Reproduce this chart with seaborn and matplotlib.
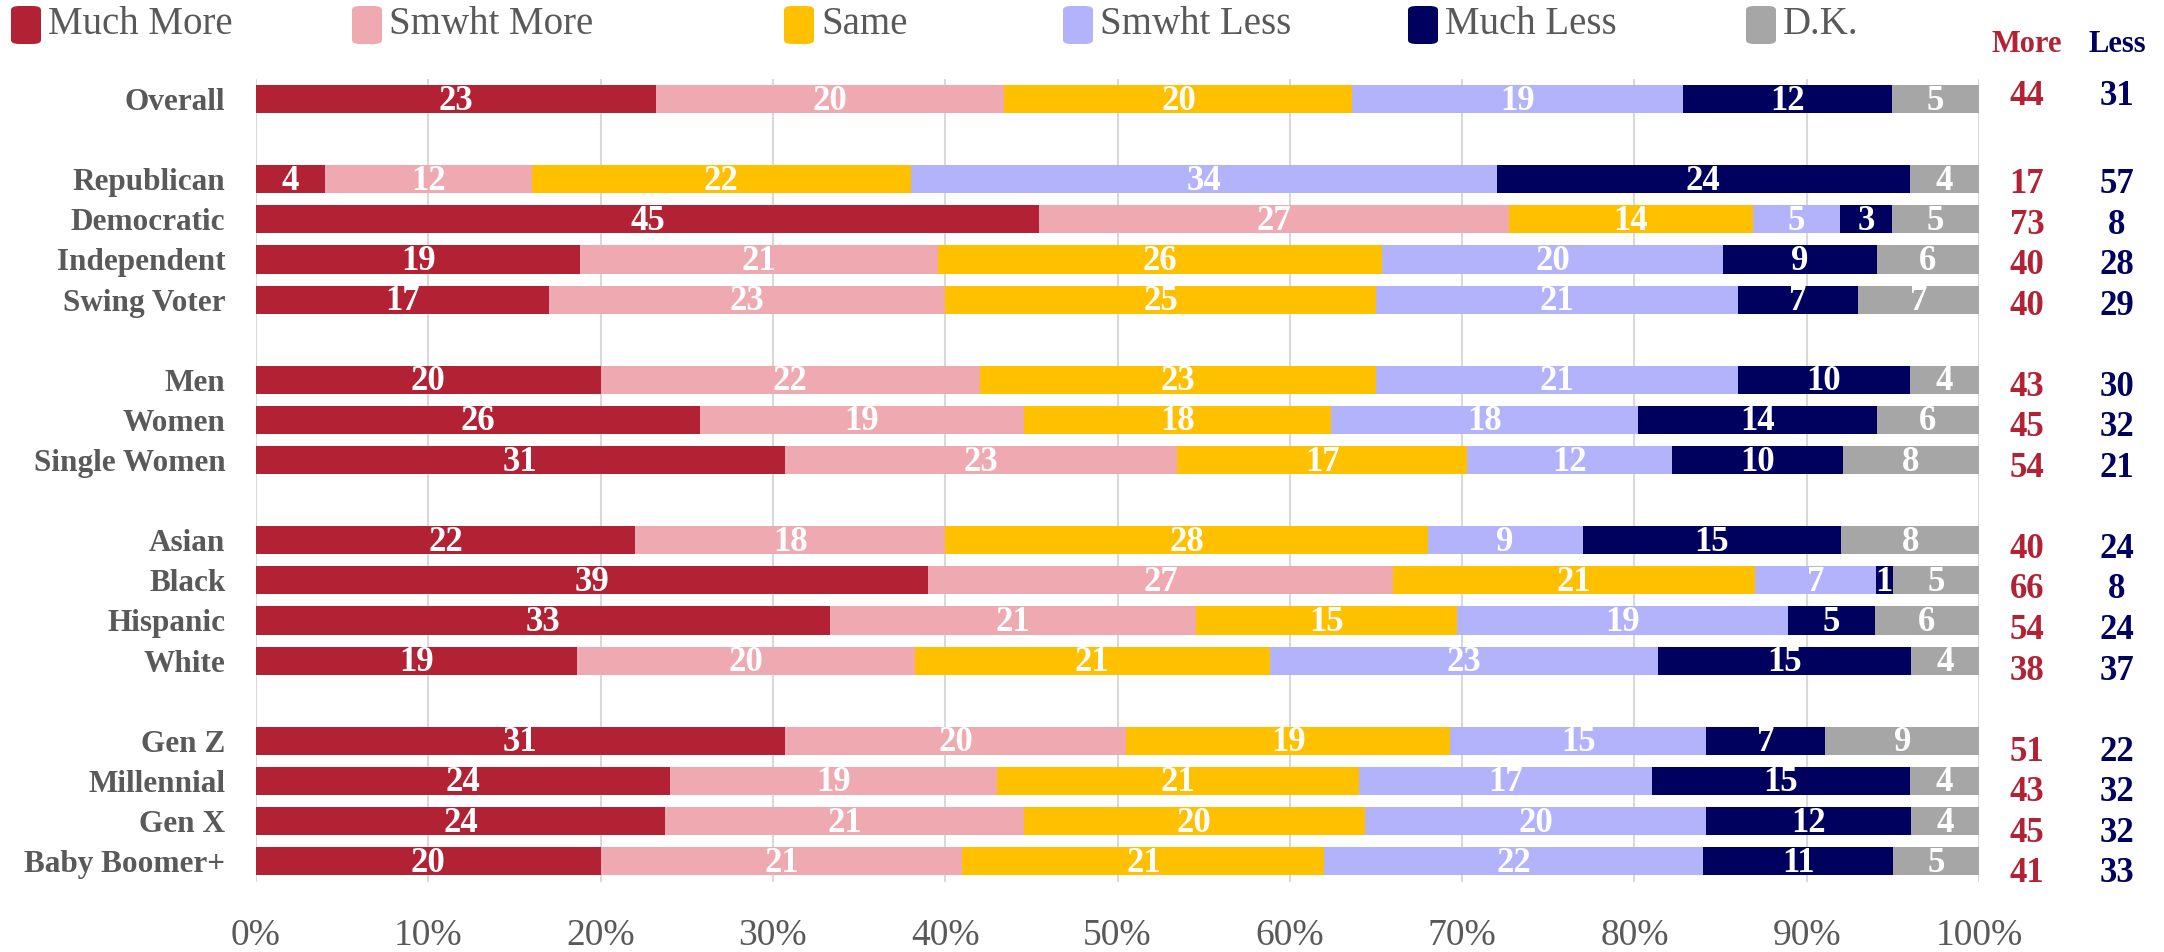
import numpy as np
import pandas as pd
import matplotlib
import matplotlib.pyplot as plt
from matplotlib.patches import FancyBboxPatch
import seaborn as sns

# Use 'Agg' backend for headless image generation
matplotlib.use('Agg')

# Survey rows (a blank row separates each block)
groups = ['Overall', 'Republican', 'Democratic', 'Independent', 'Swing Voter',
          'Men', 'Women', 'Single Women', 'Asian', 'Black', 'Hispanic', 'White',
          'Gen Z', 'Millennial', 'Gen X', 'Baby Boomer+']
positions = [0, 2, 3, 4, 5, 7, 8, 9, 11, 12, 13, 14, 16, 17, 18, 19]

much_more = [23, 4, 45, 19, 17, 20, 26, 31, 22, 39, 33, 19, 31, 24, 24, 20]
smwht_more = [20, 12, 27, 21, 23, 22, 19, 23, 18, 27, 21, 20, 20, 19, 21, 21]
same = [20, 22, 14, 26, 25, 23, 18, 17, 28, 21, 15, 21, 19, 21, 20, 21]
smwht_less = [19, 34, 5, 20, 21, 21, 18, 12, 9, 7, 19, 23, 15, 17, 20, 22]
much_less = [12, 24, 3, 9, 7, 10, 14, 10, 15, 1, 5, 15, 7, 15, 12, 11]
dont_know = [5, 4, 5, 6, 7, 4, 6, 8, 8, 5, 6, 4, 9, 4, 4, 5]

more_total = [44, 17, 73, 40, 40, 43, 45, 54, 40, 66, 54, 38, 51, 43, 45, 41]
less_total = [31, 57, 8, 28, 29, 30, 32, 21, 24, 8, 24, 37, 22, 32, 32, 33]

series_names = ['Much More', 'Smwht More', 'Same', 'Smwht Less', 'Much Less', 'D.K.']
colors = ['#B22234', '#EEAAB0', '#FFC000', '#B3B3FC', '#00005E', '#A6A6A6']

GRAY = '#595959'
RED = '#B22234'
NAVY = '#000060'

sns.set_style('white')
plt.rcParams['font.family'] = ['Liberation Serif', 'DejaVu Serif']

values = np.array([much_more, smwht_more, same, smwht_less, much_less, dont_know], dtype=float)
# bars are scaled so every row fills 100%
pct = values / values.sum(axis=0) * 100
cum = np.cumsum(pct, axis=0)

fig = plt.figure(figsize=(21.64, 9.52), dpi=100)
ax = fig.add_axes([256 / 2164, 1 - 882 / 952, 1723 / 2164, 803 / 952])

# stacked bars: draw the longest cumulative bar first, then overlay the shorter ones
for k in reversed(range(len(series_names))):
    df_k = pd.DataFrame({'pos': positions, 'pct': cum[k]})
    sns.barplot(data=df_k, x='pct', y='pos', orient='y', native_scale=True,
                color=colors[k], saturation=1, width=0.7, errorbar=None,
                linewidth=0, ax=ax, zorder=2)

# segment labels
for k in range(len(series_names)):
    start = cum[k] - pct[k]
    for i, pos in enumerate(positions):
        ax.text(start[i] + pct[k][i] / 2, pos + 0.05, f"{int(values[k][i])}",
                ha='center', va='center', color='white', fontsize=25,
                fontweight='bold', zorder=5)

ax.set_xlim(0, 100)
ax.set_ylim(19.52, -0.5)
ax.set_xticks(range(0, 101, 10))
ax.set_xticklabels([f"{t}%" for t in range(0, 101, 10)])
ax.set_yticks(positions)
ax.set_yticklabels(groups, fontweight='bold')
ax.tick_params(axis='y', length=0, pad=22, labelsize=22.5, labelcolor=GRAY)
ax.tick_params(axis='x', length=0, pad=26, labelsize=27, labelcolor=GRAY)
ax.set_xlabel('')
ax.set_ylabel('')
ax.grid(axis='x', color='#D9D9D9', linewidth=1.5)
ax.grid(axis='y', visible=False)
ax.set_axisbelow(True)
for s in ax.spines.values():
    s.set_visible(False)

# More / Less totals column
tr = ax.get_yaxis_transform()
x_more, x_less = (2027 - 256) / 1723, (2117 - 256) / 1723
ax.text(x_more, -1.35, 'More', transform=tr, ha='center', va='center',
        color=RED, fontsize=22, fontweight='bold', clip_on=False)
ax.text(x_less, -1.35, 'Less', transform=tr, ha='center', va='center',
        color=NAVY, fontsize=22, fontweight='bold', clip_on=False)
for i, pos in enumerate(positions):
    off = -0.07 if pos == 0 else 0.12 + 0.01 * pos
    ax.text(x_more, pos + off, str(more_total[i]), transform=tr, ha='center',
            va='center', color=RED, fontsize=25, fontweight='bold', clip_on=False)
    ax.text(x_less, pos + off, str(less_total[i]), transform=tr, ha='center',
            va='center', color=NAVY, fontsize=25, fontweight='bold', clip_on=False)

# legend across the top
swatch_x = [11, 352, 784, 1063, 1408, 1746]
for name, col, sx in zip(series_names, colors, swatch_x):
    fig.patches.append(FancyBboxPatch((sx / 2164, 1 - 44 / 952), 30 / 2164, 38 / 952,
                                      boxstyle='round,pad=0,rounding_size=0.004',
                                      transform=fig.transFigure, facecolor=col,
                                      edgecolor='none'))
    fig.text((sx + 37) / 2164, 1 - 24 / 952, name, ha='left', va='center',
             color=GRAY, fontsize=28)

fig.savefig('out.png', dpi=100)
plt.close(fig)
